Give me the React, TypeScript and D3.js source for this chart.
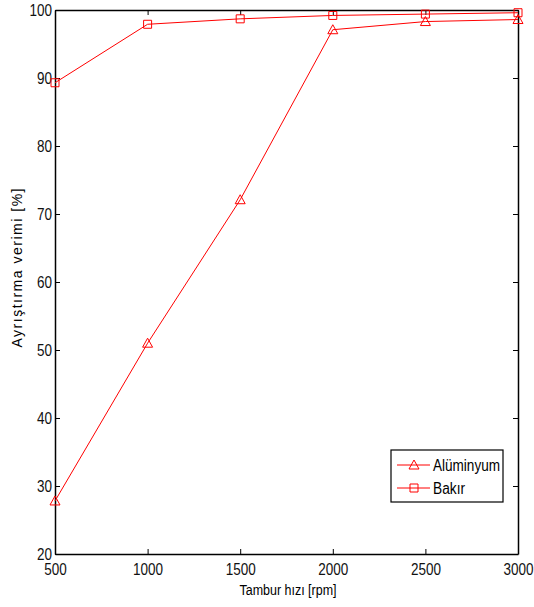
import * as d3 from "d3";
import { useEffect, useRef } from "react";

const speeds = [500, 1000, 1500, 2000, 2500, 3000];
const aluminium = [27.8, 51, 72.1, 97.1, 98.3, 98.6];
const copper = [89.3, 97.9, 98.7, 99.2, 99.4, 99.6];
const xTicks = [500, 1000, 1500, 2000, 2500, 3000];
const yTicks = [20, 30, 40, 50, 60, 70, 80, 90, 100];
const seriesNames = ["Alüminyum", "Bakır"];

const W = 534;
const H = 607;
const M = { left: 55, right: 16, top: 10, bottom: 53 };
const FONT = "'Liberation Sans', Arial, sans-serif";

export default function App() {
  const ref = useRef<SVGSVGElement>(null);

  useEffect(() => {
    const svg = d3.select(ref.current);
    svg.selectAll("*").remove();
    const w = W - M.left - M.right;
    const h = H - M.top - M.bottom;

    const x = d3.scaleLinear().domain([500, 3000]).range([0, w]);
    const y = d3.scaleLinear().domain([20, 100]).range([h, 0]);

    const g = svg.append("g").attr("transform", `translate(${M.left},${M.top})`);

    // inward ticks on all four sides, matlab style
    const tick = 5;
    const bottom = g.append("g").attr("transform", `translate(0,${h})`)
      .call(d3.axisBottom(x).tickValues(xTicks).tickSizeInner(-tick).tickSizeOuter(0).tickPadding(10).tickFormat(d3.format("d")));
    const left = g.append("g")
      .call(d3.axisLeft(y).tickValues(yTicks).tickSizeInner(-tick).tickSizeOuter(0).tickPadding(3).tickFormat(d3.format("d")));
    const top = g.append("g")
      .call(d3.axisTop(x).tickValues(xTicks).tickSizeInner(-tick).tickSizeOuter(0).tickFormat(() => ""));
    const right = g.append("g").attr("transform", `translate(${w},0)`)
      .call(d3.axisRight(y).tickValues(yTicks).tickSizeInner(-tick).tickSizeOuter(0).tickFormat(() => ""));

    [bottom, left, top, right].forEach((a) => {
      a.select(".domain").attr("stroke", "#000").attr("stroke-width", 1.5);
      a.selectAll(".tick line").attr("stroke", "#000");
      a.selectAll<SVGTextElement, number>("text")
        .attr("font-family", FONT).attr("font-size", 16).attr("fill", "#111")
        .attr("lengthAdjust", "spacingAndGlyphs")
        .attr("textLength", function () {
          const t = this.textContent || "";
          return t.length ? t.length * 7.5 : null;
        });
    });

    const line = d3.line<number>().x((_, i) => x(speeds[i])).y((d) => y(d));
    const red = "#ff0000";

    g.append("path").datum(aluminium).attr("d", line).attr("fill", "none").attr("stroke", red).attr("stroke-width", 1);
    g.append("path").datum(copper).attr("d", line).attr("fill", "none").attr("stroke", red).attr("stroke-width", 1);

    const tri = (cx: number, cy: number) =>
      `M${cx},${cy - 5}L${cx + 5},${cy + 4}L${cx - 5},${cy + 4}Z`;
    const sq = (cx: number, cy: number) =>
      `M${cx - 4},${cy - 4}h8v8h-8Z`;

    g.selectAll(".tri").data(aluminium).join("path")
      .attr("d", (d, i) => tri(x(speeds[i]), y(d)))
      .attr("fill", "none").attr("stroke", red);
    g.selectAll(".sq").data(copper).join("path")
      .attr("d", (d, i) => sq(x(speeds[i]), y(d)))
      .attr("fill", "none").attr("stroke", red);

    // axis titles
    svg.append("text")
      .attr("x", 288).attr("y", H - 12)
      .attr("text-anchor", "middle").attr("font-family", FONT).attr("font-size", 14)
      .attr("textLength", 97).attr("lengthAdjust", "spacingAndGlyphs")
      .text("Tambur hızı [rpm]");
    svg.append("text")
      .attr("transform", `translate(22,268) rotate(-90)`)
      .attr("text-anchor", "middle").attr("font-family", FONT).attr("font-size", 14)
      .attr("textLength", 159).attr("lengthAdjust", "spacing")
      .text("Ayrıştırma verimi [%]");

    // legend
    const lg = svg.append("g").attr("transform", "translate(391,450)");
    lg.append("rect").attr("width", 112).attr("height", 52)
      .attr("fill", "#fff").attr("stroke", "#000").attr("stroke-width", 1.2);
    seriesNames.forEach((name, i) => {
      const cy = 15 + i * 23;
      lg.append("line").attr("x1", 6).attr("x2", 39).attr("y1", cy).attr("y2", cy).attr("stroke", red);
      lg.append("path").attr("d", i === 0 ? tri(23, cy) : sq(23, cy)).attr("fill", "none").attr("stroke", red);
      lg.append("text").attr("x", 42).attr("y", cy + 6)
        .attr("font-family", FONT).attr("font-size", 16)
        .attr("textLength", i === 0 ? 67 : 32).attr("lengthAdjust", "spacingAndGlyphs")
        .text(name);
    });
  }, []);

  return <svg ref={ref} width={W} height={H} style={{ display: "block", position: "absolute", left: 0, top: 0 }} />;
}
